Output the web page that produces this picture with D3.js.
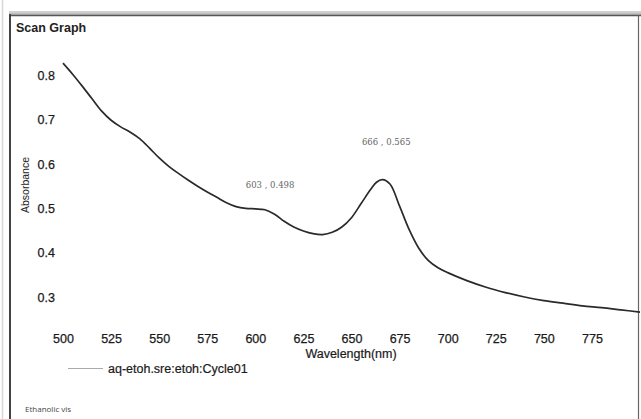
<!DOCTYPE html>
<html>
<head>
<meta charset="utf-8">
<script src="https://cdn.jsdelivr.net/npm/d3@7"></script>
<style>
html,body{margin:0;padding:0;background:#fff;}
svg{display:block;}
</style>
</head>
<body>
<svg id="chart" width="641" height="419"></svg>
<script>
const wavelength = [500,505,510,515,520,525,530,535,540,545,550,555,560,565,570,575,580,585,590,595,600,603,605,610,615,620,625,630,635,640,645,650,655,660,663,666,670,675,680,685,690,695,700,710,720,730,740,750,760,770,780,790,800];
const absorbance = [0.828,0.803,0.776,0.748,0.720,0.699,0.684,0.672,0.657,0.636,0.614,0.595,0.579,0.564,0.550,0.537,0.525,0.513,0.504,0.500,0.499,0.498,0.497,0.487,0.471,0.458,0.449,0.443,0.441,0.446,0.458,0.479,0.511,0.543,0.559,0.565,0.555,0.505,0.452,0.410,0.382,0.366,0.355,0.337,0.322,0.310,0.300,0.292,0.286,0.280,0.276,0.271,0.266];
const xTicks = [500,525,550,575,600,625,650,675,700,725,750,775];
const yTicks = [0.3,0.4,0.5,0.6,0.7,0.8];
const peakLabels = ["603 , 0.498","666 , 0.565"];
const peakX = [603,666];
const peakY = [0.498,0.565];
const title = "Scan Graph";
const xTitle = "Wavelength(nm)";
const yTitle = "Absorbance";
const seriesName = "aq-etoh.sre:etoh:Cycle01";
const footNote = "Ethanolic vis";

const svg = d3.select("#chart");
const font = "'Liberation Sans', Arial, sans-serif";

// frame
svg.append("line").attr("x1",2.5).attr("x2",2.5).attr("y1",0).attr("y2",419).attr("stroke","#d8d8d8").attr("stroke-width",1.5);
svg.append("line").attr("x1",9).attr("x2",641).attr("y1",12).attr("y2",12).attr("stroke","#d0d0d0").attr("stroke-width",2);
svg.append("line").attr("x1",9).attr("x2",641).attr("y1",14).attr("y2",14).attr("stroke","#a8a8a8").attr("stroke-width",1.5);
svg.append("line").attr("x1",9).attr("x2",641).attr("y1",15.5).attr("y2",15.5).attr("stroke","#555").attr("stroke-width",1.5);
svg.append("line").attr("x1",10).attr("x2",10).attr("y1",14).attr("y2",419).attr("stroke","#444").attr("stroke-width",2);
svg.append("line").attr("x1",638.5).attr("x2",638.5).attr("y1",15).attr("y2",419).attr("stroke","#666").attr("stroke-width",1.2);

const x = d3.scaleLinear().domain([500,800]).range([63,640]);
const y = d3.scaleLinear().domain([0.3,0.8]).range([297,75.5]);

// title
svg.append("text").attr("x",16).attr("y",32).attr("font-family",font).attr("font-weight","bold").attr("font-size",12.5).attr("fill","#222").text(title);

// axes
const gx = svg.append("g").attr("transform","translate(0,331)")
  .call(d3.axisBottom(x).tickValues(xTicks).tickSize(0).tickPadding(3).tickFormat(d3.format("d")));
gx.select(".domain").remove();
gx.selectAll("text").attr("font-family",font).attr("font-size",12.5).attr("fill","#1a1a1a").attr("stroke","#1a1a1a").attr("stroke-width",0.25);

const gy = svg.append("g").attr("transform","translate(63,0)")
  .call(d3.axisLeft(y).tickValues(yTicks).tickSize(0).tickPadding(8).tickFormat(d3.format(".1f")));
gy.select(".domain").remove();
gy.selectAll("text").attr("font-family",font).attr("font-size",12.5).attr("fill","#1a1a1a").attr("stroke","#1a1a1a").attr("stroke-width",0.25);

svg.append("text").attr("x",351).attr("y",358).attr("text-anchor","middle").attr("font-family",font).attr("font-size",12.5).attr("fill","#1a1a1a").attr("stroke","#1a1a1a").attr("stroke-width",0.2).text(xTitle);
svg.append("text").attr("transform","translate(29,185) rotate(-90)").attr("text-anchor","middle").attr("font-family",font).attr("font-size",10.5).attr("fill","#222").text(yTitle);

// curve
const pts = wavelength.map((w,i)=>[w,absorbance[i]]);
const line = d3.line().x(d=>x(d[0])).y(d=>y(d[1])).curve(d3.curveCatmullRom.alpha(0.5));
svg.append("path").datum(pts).attr("d",line).attr("fill","none").attr("stroke","#2a2a2a").attr("stroke-width",1.7);

// peak annotations
const labelOffsets = [[9,-21],[4,-35]];
peakLabels.forEach((t,i)=>{
  svg.append("text").attr("x",x(peakX[i])+labelOffsets[i][0]).attr("y",y(peakY[i])+labelOffsets[i][1])
    .attr("text-anchor","middle").attr("font-family","'DejaVu Serif', serif").attr("font-size",8.5).attr("fill","#666").text(t);
});

// legend
svg.append("line").attr("x1",68).attr("x2",103).attr("y1",368.5).attr("y2",368.5).attr("stroke","#aaa").attr("stroke-width",1);
svg.append("text").attr("x",108).attr("y",373).attr("font-family",font).attr("font-size",12.5).attr("fill","#1a1a1a").attr("stroke","#1a1a1a").attr("stroke-width",0.2).text(seriesName);

svg.append("text").attr("x",25).attr("y",412).attr("font-family","'Open Sans', sans-serif").attr("font-size",8).attr("fill","#444").text(footNote);
</script>
</body>
</html>
